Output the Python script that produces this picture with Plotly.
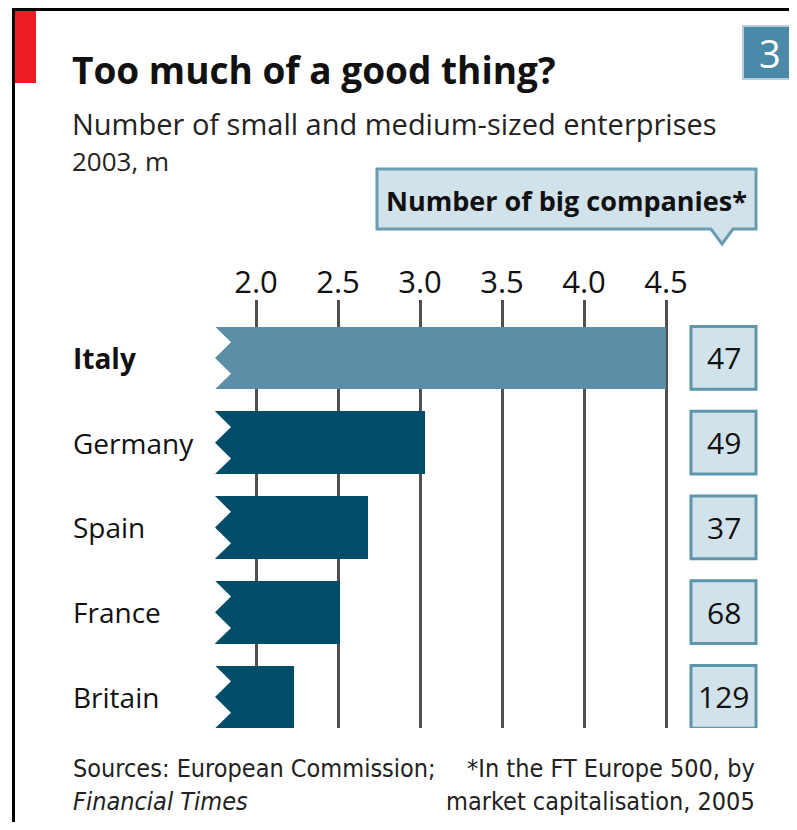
import plotly.graph_objects as go

# ---- data ----
countries = ["Italy", "Germany", "Spain", "France", "Britain"]
sme_millions = [4.5, 3.03, 2.68, 2.51, 2.23]
big_companies = [47, 49, 37, 68, 129]
tick_values = [2.0, 2.5, 3.0, 3.5, 4.0, 4.5]
tick_labels = ["2.0", "2.5", "3.0", "3.5", "4.0", "4.5"]
highlight = "Italy"

# ---- layout geometry (reference pixels) ----
W, H = 797, 830
OFF = 8          # page body margin of the browser
FIG_H = H - 2 * OFF
L, R = 215, 680
T, B = 300, 728
X0 = 1.75
PXU = 164.0
X1 = X0 + (R - L) / PXU
BARW = 0.74

FONT = "Open Sans"
NARROW = "Liberation Sans Narrow, DejaVu Sans Condensed, Open Sans"

def px(x):
    return (x - L) / (R - L)

def py(y):
    return (B - y) / (B - T)

colors = ["#5b8fa7" if c == highlight else "#004d6a" for c in countries]

fig = go.Figure()
fig.add_trace(go.Bar(
    y=countries, x=sme_millions, orientation="h",
    marker=dict(color=colors, line=dict(width=0)),
    width=BARW, hoverinfo="skip",
))

shapes = []
annotations = []

# zigzag notches at bar starts
d = 16 / PXU
for i, c in enumerate(countries):
    top = i - BARW / 2
    bot = i + BARW / 2
    q = BARW / 4
    path = (f"M {X0},{top} L {X0 + d},{top + q} L {X0},{i} "
            f"L {X0 + d},{i + q} L {X0},{bot} Z")
    shapes.append(dict(type="path", xref="x", yref="y", path=path,
                       fillcolor="white", line=dict(width=0), layer="above"))

# country labels
for c in countries:
    annotations.append(dict(
        xref="paper", yref="y", x=px(71), y=c, xanchor="left", yanchor="middle",
        text=f"<b>{c}</b>" if c == highlight else c, showarrow=False,
        font=dict(family=FONT, size=28, color="#111")))

# big company boxes
for i, (c, n) in enumerate(zip(countries, big_companies)):
    shapes.append(dict(type="rect", xref="paper", yref="y",
                       x0=px(691), x1=px(756), y0=i - BARW / 2, y1=i + BARW / 2,
                       fillcolor="#d2e2ea", line=dict(color="#5d95aa", width=3)))
    annotations.append(dict(
        xref="paper", yref="y", x=px(723.5), y=c, xanchor="center", yanchor="middle",
        text=str(n), showarrow=False,
        font=dict(family=FONT, size=30, color="#111")))

# callout box
shapes.append(dict(type="path", xref="paper", yref="paper",
                   path=(f"M {px(377)},{py(169)} L {px(756)},{py(169)} L {px(756)},{py(229)} "
                         f"L {px(733)},{py(229)} L {px(722)},{py(244)} L {px(711)},{py(229)} "
                         f"L {px(377)},{py(229)} Z"),
                   fillcolor="#d2e2ea", line=dict(color="#6a9cb0", width=3)))
annotations.append(dict(
    xref="paper", yref="paper", x=px(566), y=py(200), xanchor="center", yanchor="middle",
    text="<b>Number of big companies*</b>", showarrow=False,
    font=dict(family=FONT, size=27, color="#111")))

# frame, red tag, number badge
shapes.append(dict(type="rect", xref="paper", yref="paper",
                   x0=px(12), x1=px(797), y0=py(8), y1=py(11),
                   fillcolor="black", line=dict(width=0)))
shapes.append(dict(type="rect", xref="paper", yref="paper",
                   x0=px(12), x1=px(15), y0=py(8), y1=py(830),
                   fillcolor="black", line=dict(width=0)))
shapes.append(dict(type="rect", xref="paper", yref="paper",
                   x0=px(15), x1=px(36), y0=py(11), y1=py(83),
                   fillcolor="#ed1c24", line=dict(width=0)))
shapes.append(dict(type="rect", xref="paper", yref="paper",
                   x0=px(743), x1=px(795), y0=py(26), y1=py(79),
                   fillcolor="#4a8aa8", line=dict(color="#b5d0dc", width=2)))
annotations.append(dict(
    xref="paper", yref="paper", x=px(770), y=py(53), xanchor="center", yanchor="middle",
    text="3", showarrow=False, font=dict(family=FONT, size=38, color="white")))

# titles
annotations.append(dict(
    xref="paper", yref="paper", x=px(70), y=py(69), xanchor="left", yanchor="middle",
    text="<b>Too much of a good thing?</b>", showarrow=False,
    font=dict(family=FONT, size=37, color="#111")))
annotations.append(dict(
    xref="paper", yref="paper", x=px(70), y=py(123), xanchor="left", yanchor="middle",
    text="Number of small and medium-sized enterprises", showarrow=False,
    font=dict(family=FONT, size=29, color="#222")))
annotations.append(dict(
    xref="paper", yref="paper", x=px(70), y=py(161), xanchor="left", yanchor="middle",
    text="2003, m", showarrow=False,
    font=dict(family=FONT, size=26, color="#222")))

# footer
annotations.append(dict(
    xref="paper", yref="paper", x=px(71), y=py(785), xanchor="left", yanchor="middle",
    text="Sources: European Commission;<br><i>Financial Times</i>", showarrow=False,
    align="left", font=dict(family=NARROW, size=25, color="#222")))
annotations.append(dict(
    xref="paper", yref="paper", x=px(757), y=py(785), xanchor="right", yanchor="middle",
    text="*In the FT Europe 500, by<br>market capitalisation, 2005", showarrow=False,
    align="right", font=dict(family=NARROW, size=25, color="#222")))

fig.update_layout(
    width=W - OFF, height=FIG_H,
    margin=dict(l=L - OFF, r=W - R, t=T - OFF, b=FIG_H - (B - OFF), pad=0),
    paper_bgcolor="white", plot_bgcolor="white",
    showlegend=False, bargap=0,
    shapes=shapes, annotations=annotations,
    xaxis=dict(range=[X0, X1], side="top", tickvals=tick_values, ticktext=tick_labels,
               showgrid=True, gridcolor="#505050", gridwidth=3, zeroline=False,
               showline=False, ticks="", tickfont=dict(family=FONT, size=31, color="#111"),
               fixedrange=True),
    yaxis=dict(range=[len(countries) - 1 + 0.366, -0.684], showticklabels=False,
               showgrid=False, zeroline=False, showline=False, fixedrange=True),
)

fig.write_html("out.html")
